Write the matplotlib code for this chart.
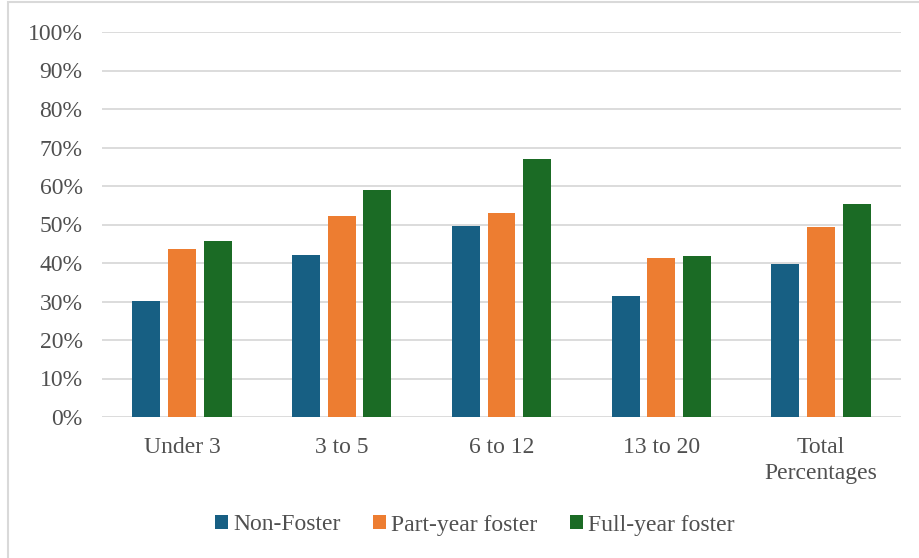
import matplotlib.pyplot as plt
import numpy as np
from matplotlib.patches import Rectangle
from matplotlib.ticker import FuncFormatter, MultipleLocator

categories = ["Under 3", "3 to 5", "6 to 12", "13 to 20", "Total\nPercentages"]
series_names = ["Non-Foster", "Part-year foster", "Full-year foster"]
non_foster = [30.2, 42.2, 49.5, 31.4, 39.7]
part_year = [43.6, 52.3, 53.0, 41.3, 49.4]
full_year = [45.8, 59.0, 67.0, 41.8, 55.4]

colors = ["#175f83", "#ed7d31", "#1b6b25"]

plt.rcParams["font.family"] = ["Liberation Serif", "DejaVu Serif"]

W, H = 919, 558
fig = plt.figure(figsize=(W / 100, H / 100), dpi=100)
ax = fig.add_axes([102 / W, 1 - 417 / H, (901 - 102) / W, (417 - 32) / H])

x = np.arange(len(categories))
width = 0.175
step = 0.223
for i, (name, vals) in enumerate(zip(series_names, [non_foster, part_year, full_year])):
    ax.bar(x + (i - 1) * step, vals, width, color=colors[i], label=name, zorder=3)

ax.set_xlim(-0.5, len(categories) - 0.5)
ax.set_ylim(0, 100)
ax.yaxis.set_major_locator(MultipleLocator(10))
ax.yaxis.set_major_formatter(FuncFormatter(lambda v, _: f"{v:.0f}%"))
ax.grid(axis="y", color="#d9d9d9", linewidth=1.3, zorder=0)
ax.set_xticks(x, categories)
for lbl in ax.get_xticklabels():
    lbl.set_linespacing(1.3)
ax.tick_params(axis="both", length=0, labelsize=17, labelcolor="#505050")
ax.tick_params(axis="x", pad=14.5)
ax.tick_params(axis="y", pad=14)
for side in ["left", "right", "top", "bottom"]:
    ax.spines[side].set_visible(False)

fig.legend(loc="center", bbox_to_anchor=(475 / W, 1 - 525 / H), ncol=3, frameon=False,
           fontsize=17, labelcolor="#505050", handlelength=0.55, handleheight=0.55,
           handletextpad=0.2, columnspacing=1.4)

fig.patches.append(Rectangle((8 / W, -0.1), 1.2, 1 - 2 / H + 0.1, transform=fig.transFigure,
                             fill=False, edgecolor="#d9d9d9", linewidth=1.5))

fig.savefig("out.png", dpi=100)
